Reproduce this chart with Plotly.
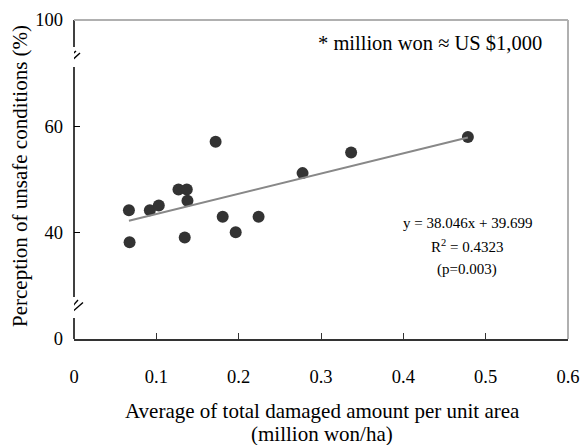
import plotly.graph_objects as go

# Data
damage = [0.0667, 0.0675, 0.0921, 0.1030, 0.1269, 0.1370, 0.1378, 0.1345,
          0.1720, 0.1806, 0.1964, 0.2242, 0.2776, 0.3366, 0.4784]
perception = [44.2, 38.2, 44.2, 45.1, 48.1, 48.1, 46.0, 39.1,
              57.1, 43.0, 40.1, 43.0, 51.2, 55.1, 58.0]
slope = 38.046
intercept = 39.699

# Broken y-axis: display positions and their labels
y_tickvals = [20, 40, 60, 80]
y_ticktext = ['0', '40', '60', '100']
x_tickvals = [0, 0.1, 0.2, 0.3, 0.4, 0.5, 0.6]
x_ticktext = ['0', '0.1', '0.2', '0.3', '0.4', '0.5', '0.6']

FONT = 'Liberation Serif'
L, R, T, B = 74, 14, 20, 106
W, H = 582, 445
PW, PH = W - L - R, H - T - B


def px(xp):
    return (xp - L) / PW


def py(yp):
    return (H - B - yp) / PH


fig = go.Figure()
fig.add_trace(go.Scatter(x=damage, y=perception, mode='markers',
                         marker=dict(color='#333333', size=12, line=dict(width=0)),
                         showlegend=False, hoverinfo='skip'))
xl = [min(damage), max(damage)]
fig.add_trace(go.Scatter(x=xl, y=[slope * v + intercept for v in xl], mode='lines',
                         line=dict(color='#888888', width=2), showlegend=False,
                         hoverinfo='skip'))

shapes = []
# left axis with two breaks
for a, b in [(339, 318), (297, 67), (47, 20)]:
    shapes.append(dict(type='line', xref='paper', yref='paper', x0=0, x1=0,
                       y0=py(a), y1=py(b), line=dict(color='black', width=1.5)))
# top and right frame (grey)
shapes.append(dict(type='line', xref='paper', yref='paper', x0=0, x1=1, y0=1, y1=1,
                   line=dict(color='#b0b0b0', width=2)))
shapes.append(dict(type='line', xref='paper', yref='paper', x0=1, x1=1, y0=0, y1=1,
                   line=dict(color='#b0b0b0', width=2)))
# break slashes
for cy, segs in [(57, [(-12, -6, 2, 6), (-7, -8, 6, 4)]),
                 (307.5, [(-7, -5, 4, 7.5), (-3.5, -6, 9, 5)])]:
    for (x0, y0, x1, y1) in segs:
        shapes.append(dict(type='line', xref='x', yref='paper',
                           xsizemode='pixel', xanchor=0,
                           ysizemode='pixel', yanchor=py(cy),
                           x0=x0, x1=x1, y0=y0, y1=y1,
                           line=dict(color='black', width=1.4)))

ann = []


def add(text, xp, yp, size, angle=0):
    ann.append(dict(text=text, xref='paper', yref='paper', x=px(xp), y=py(yp),
                    xanchor='center', yanchor='middle', showarrow=False,
                    textangle=angle, font=dict(family=FONT, size=size, color='black')))


add('* million won ≈ US $1,000', 430, 43, 20.5)
add('y = 38.046x + 39.699', 467, 223, 15)
add('R<sup>2</sup> = 0.4323', 467, 246, 15)
add('(p=0.003)', 467, 269, 15)
add('Average of total damaged amount per unit area', 322, 411, 21)
add('(million won/ha)', 322, 434, 21)
add('Perception of unsafe conditions (%)', 20, 176, 21, -90)

fig.update_layout(
    width=W, height=H,
    margin=dict(l=L, r=R, t=T, b=B, autoexpand=False),
    paper_bgcolor='white', plot_bgcolor='white',
    font=dict(family=FONT, size=18, color='black'),
    shapes=shapes, annotations=ann,
    xaxis=dict(range=[0, 0.6], tickvals=x_tickvals, ticktext=x_ticktext,
               ticks='inside', ticklen=6, tickcolor='#333333', tickwidth=1.3,
               showline=True, linecolor='#333333', linewidth=2,
               showgrid=False, zeroline=False, ticklabelstandoff=20,
               automargin=False,
               tickfont=dict(family=FONT, size=18.5, color='black')),
    yaxis=dict(range=[20, 80], tickvals=y_tickvals, ticktext=y_ticktext,
               ticks='inside', ticklen=6, tickcolor='black', tickwidth=1.3,
               showline=False, showgrid=False, zeroline=False,
               ticklabelstandoff=10, automargin=False,
               tickfont=dict(family=FONT, size=18.5, color='black')),
)

fig.write_html('out.html', config={'displayModeBar': False},
               post_script="document.body.style.margin='0';document.body.style.overflow='hidden';")
